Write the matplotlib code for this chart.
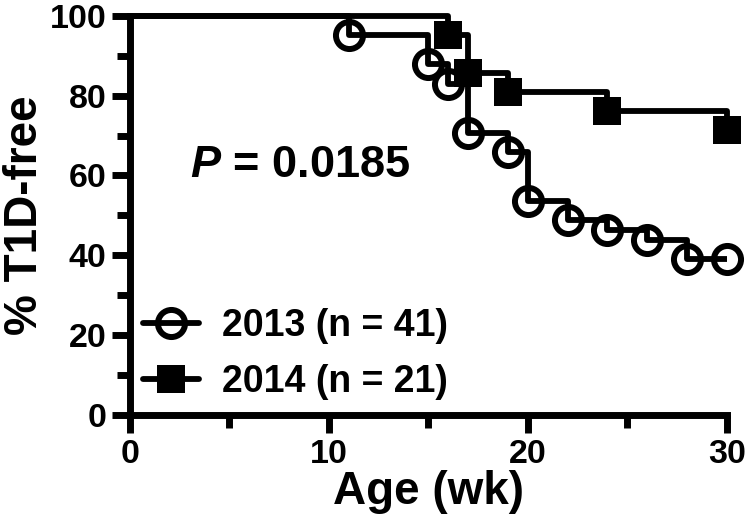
import matplotlib
matplotlib.use("Agg")
import matplotlib.pyplot as plt
from matplotlib.legend_handler import HandlerTuple

# Data (Kaplan-Meier step curves)
weeks_2013 = [0, 11, 15, 16, 17, 19, 20, 22, 24, 26, 28, 30]
surv_2013 = [100, 95.1, 87.8, 82.9, 70.7, 65.9, 53.7, 48.8, 46.3, 43.9, 39.0, 39.0]
weeks_2014 = [0, 16, 17, 19, 24, 30]
surv_2014 = [100, 95.2, 85.7, 81.0, 76.2, 71.4]
labels = ["2013 (n = 41)", "2014 (n = 21)"]
p_text = r"$P$ = 0.0185"
x_ticks = [0, 10, 20, 30]
y_ticks = [0, 20, 40, 60, 80, 100]

plt.rcParams['font.family'] = ['Liberation Sans', 'DejaVu Sans']
plt.rcParams['font.weight'] = 'bold'
plt.rcParams['mathtext.fontset'] = 'custom'
plt.rcParams['mathtext.it'] = 'Liberation Sans:italic:bold'
plt.rcParams['mathtext.rm'] = 'Liberation Sans:bold'

fig = plt.figure(figsize=(7.47, 5.26), dpi=100)
ax = fig.add_axes([0.174, 0.211, 0.799, 0.759])

lw = 4.2
# 2013 circles
ax.plot(weeks_2013[1:], surv_2013[1:], linestyle='none', marker='o', ms=19.5,
        mfc='white', mec='black', mew=4.3, zorder=2, clip_on=False)
ax.step(weeks_2013, surv_2013, where='post', color='black', lw=lw, zorder=3,
        clip_on=False, solid_capstyle='butt')
# 2014 squares
ax.step(weeks_2014, surv_2014, where='post', color='black', lw=lw, zorder=3,
        clip_on=False, solid_capstyle='butt')
ax.plot(weeks_2014[1:], surv_2014[1:], linestyle='none', marker='s', ms=19.5,
        mfc='black', mec='black', mew=0, zorder=4, clip_on=False)

# Legend handles: marker first, then line on top (overlaid)
m1, = ax.plot([], [], linestyle='none', marker='o', ms=19.5, mfc='white',
              mec='black', mew=4.3)
m2, = ax.plot([], [], linestyle='none', marker='s', ms=19.5, mfc='black',
              mec='black', mew=0)
l1, = ax.plot([], [], color='black', lw=lw, solid_capstyle='round')
l2, = ax.plot([], [], color='black', lw=lw, solid_capstyle='round')
leg = ax.legend([(m1, l1), (l2, m2)], labels, loc='lower left',
                bbox_to_anchor=(-0.01, -0.01),
                handler_map={tuple: HandlerTuple(ndivide=1, pad=0)},
                frameon=False, fontsize=27, handlelength=1.5, handletextpad=0.6,
                labelspacing=0.54, borderaxespad=0.3, borderpad=0.2)

ax.text(3.0, 62.5, p_text, fontsize=32.5, fontweight='bold', ha='left', va='center')

ax.set_xlim(0, 30)
ax.set_ylim(0, 100)
ax.set_xticks(x_ticks)
ax.set_yticks(y_ticks)
ax.set_xticks([5, 15, 25], minor=True)
ax.set_yticks([10, 30, 50, 70, 90], minor=True)
ax.tick_params(which='major', direction='out', length=13, width=5, labelsize=24.5, pad=4)
ax.tick_params(which='minor', direction='out', length=9.5, width=5)
for lab in ax.get_xticklabels() + ax.get_yticklabels():
    lab.set_fontweight('bold')

for s in ['top', 'right']:
    ax.spines[s].set_visible(False)
for s in ['left', 'bottom']:
    ax.spines[s].set_linewidth(5)
    ax.spines[s].set_capstyle('projecting')

ax.set_xlabel("Age (wk)", fontsize=33, fontweight='bold', labelpad=0)
ax.set_ylabel("% T1D-free", fontsize=33, fontweight='bold', labelpad=2)

fig.savefig("out.png", dpi=100)
